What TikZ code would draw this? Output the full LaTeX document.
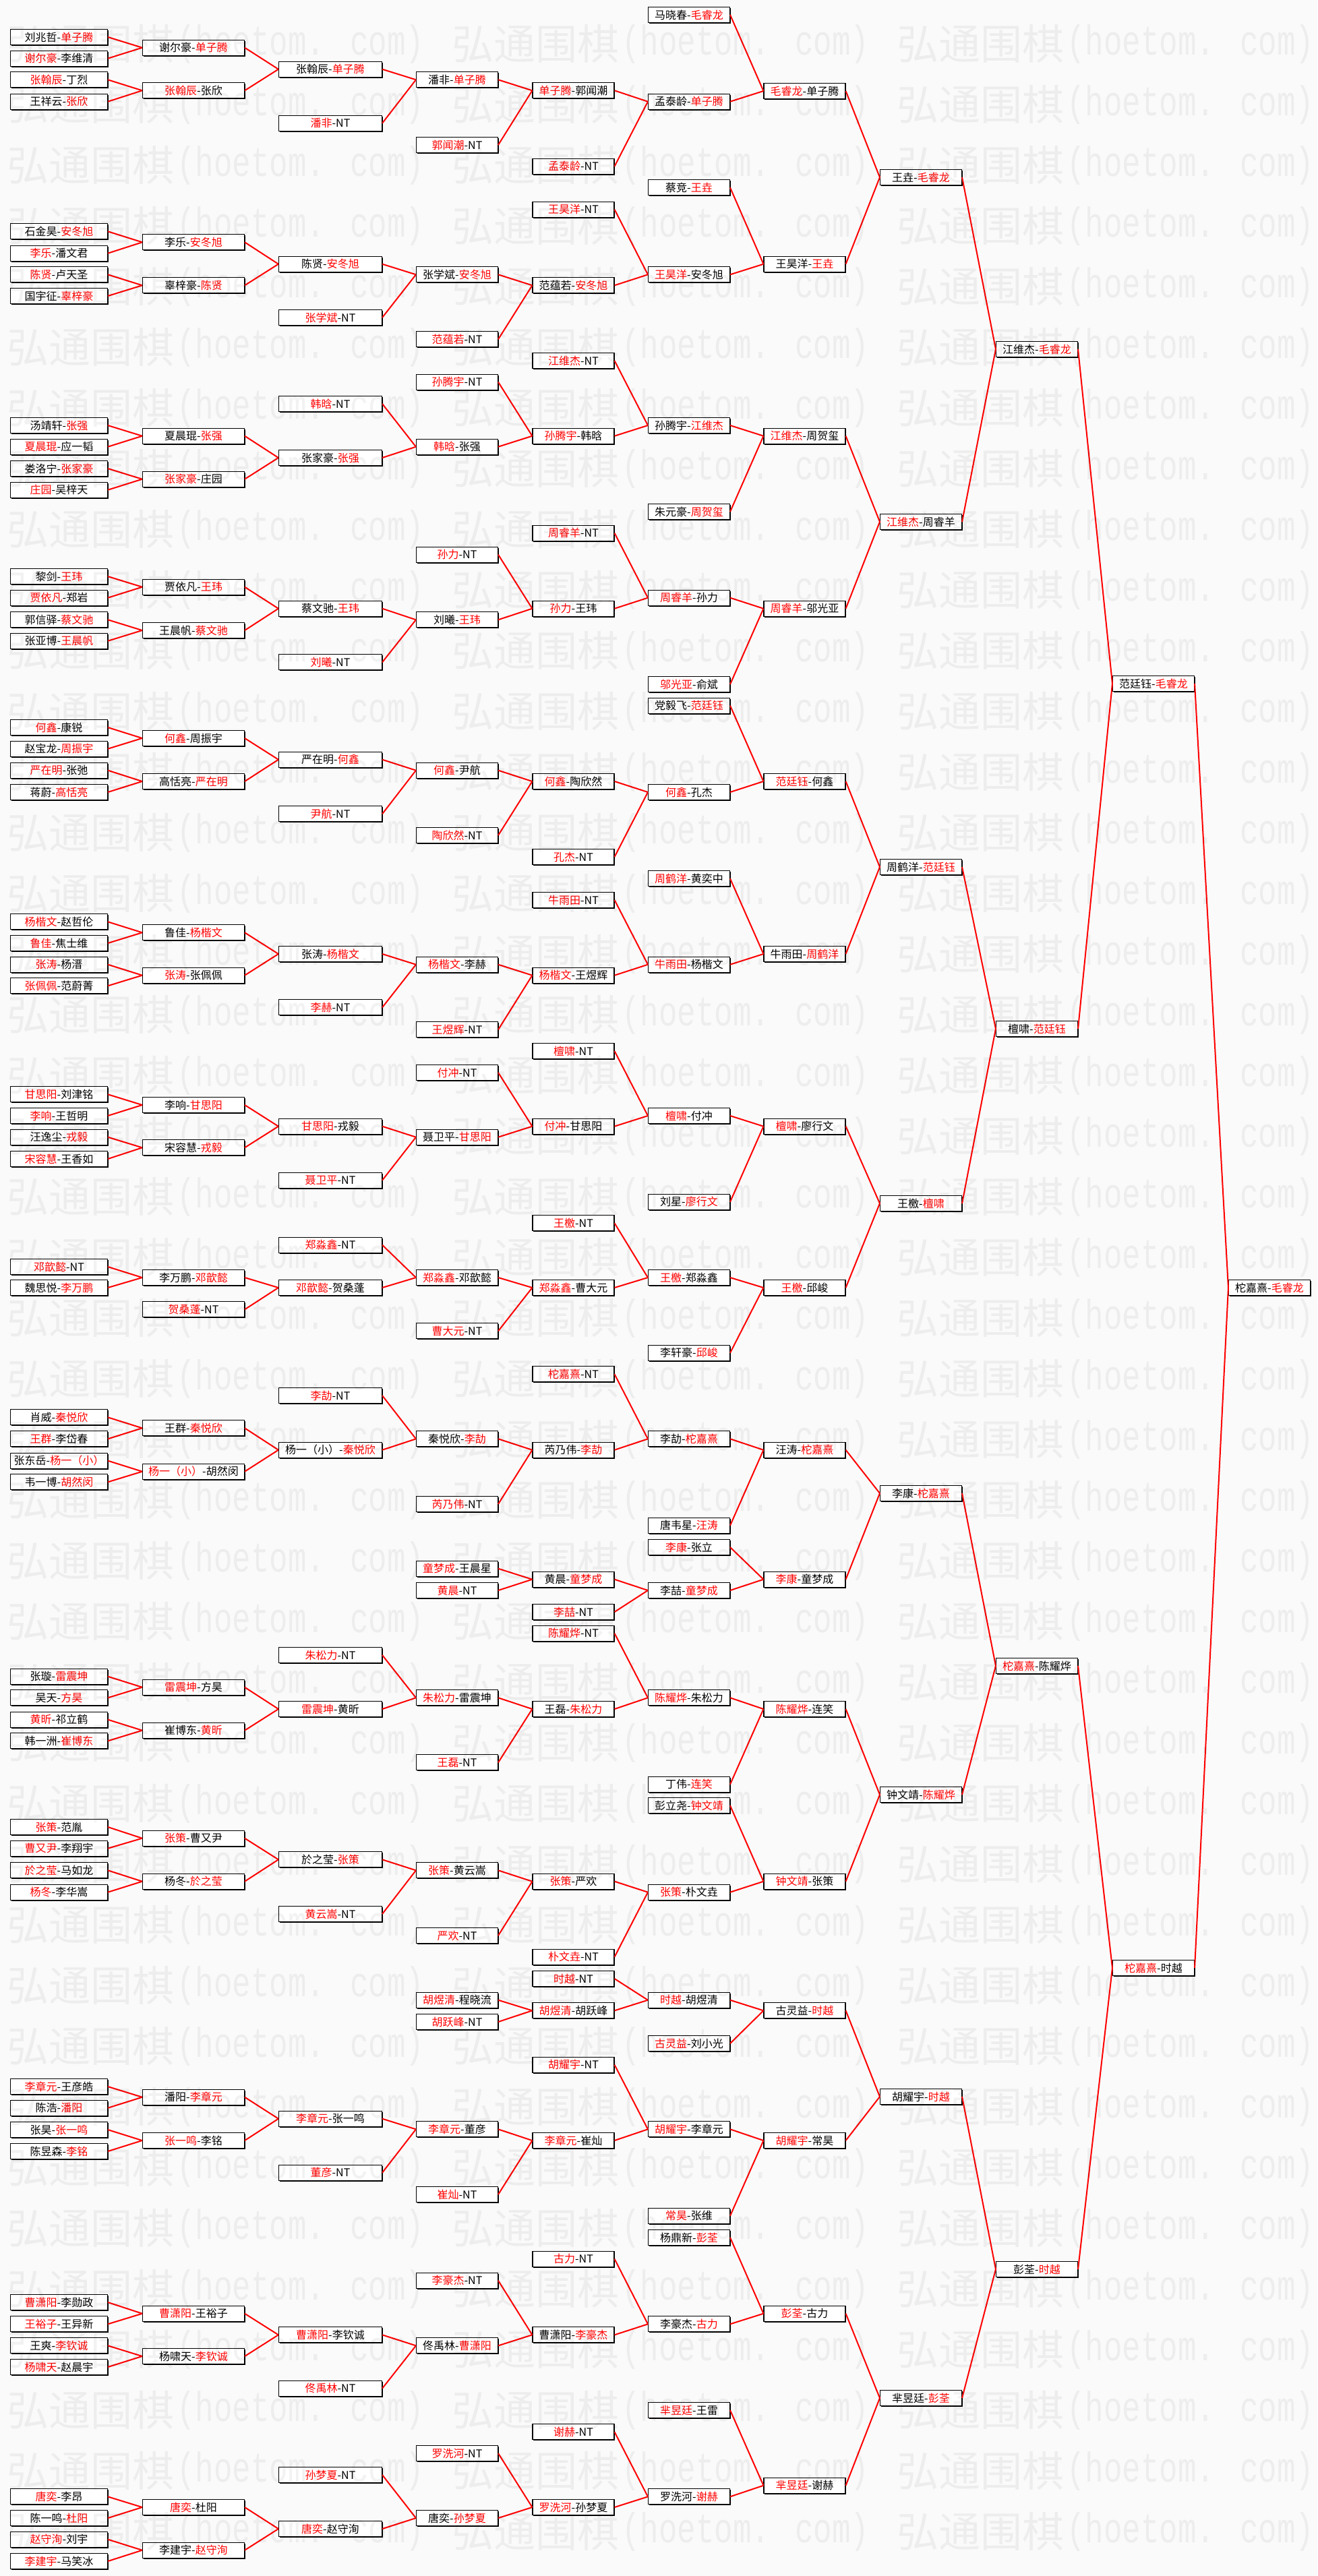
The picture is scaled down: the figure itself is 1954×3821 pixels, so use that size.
\documentclass[tikz,border=0pt]{standalone}
\usepackage{fontspec}
\setmainfont{Noto Sans CJK SC}
\newfontfamily\wmmono[FakeStretch=0.74]{Liberation Mono}
\usetikzlibrary{shadows}
\definecolor{bgc}{RGB}{250,250,250}
\newcommand{\lwin}[2]{\textcolor{red}{#1}-#2}
\newcommand{\rwin}[2]{#1-\textcolor{red}{#2}}
\def\xA{87.5}\def\xB{287}\def\xC{490}\def\xD{678}\def\xE{850.5}\def\xF{1022}
\def\xG{1193.5}\def\xH{1366}\def\xI{1538}\def\xJ{1711}\def\xK{1883}
\tikzset{
  mbox/.style={draw=black, line width=1.1pt, fill=white, inner sep=0pt, minimum height=23pt,
    font=\fontsize{16}{16}\selectfont,
    drop shadow={shadow xshift=1.4pt, shadow yshift=-1.4pt, fill=black, opacity=1}},
  wA/.style={mbox, minimum width=144pt},
  wB/.style={mbox, minimum width=151pt},
  wC/.style={mbox, minimum width=153pt},
  wD/.style={mbox, minimum width=121pt},
  link/.style={draw=red, line width=2pt},
  wm/.style={inner sep=0pt, anchor=west, text=black, text opacity=0.05, font=\fontsize{62}{62}\selectfont},
  wmm/.style={wm, font=\wmmono\fontsize{62}{62}\selectfont},
}
\begin{document}
\begin{tikzpicture}[x=1pt,y=-1pt]
\useasboundingbox (0,0) rectangle (1954,3821);
\fill[bgc] (0,0) rectangle (1954,3821);
% ---------- column A
\node[wA] (a1) at (\xA,55) {\rwin{刘兆哲}{单子腾}};
\node[wA] (a2) at (\xA,86.7) {\lwin{谢尔豪}{李维清}};
\node[wA] (a3) at (\xA,118.3) {\lwin{张翰辰}{丁烈}};
\node[wA] (a4) at (\xA,150.7) {\rwin{王祥云}{张欣}};
\node[wA] (a5) at (\xA,343.3) {\rwin{石金昊}{安冬旭}};
\node[wA] (a6) at (\xA,375.7) {\lwin{李乐}{潘文君}};
\node[wA] (a7) at (\xA,407.3) {\lwin{陈贤}{卢天圣}};
\node[wA] (a8) at (\xA,439) {\rwin{国宇征}{辜梓豪}};
\node[wA] (a9) at (\xA,631) {\rwin{汤靖轩}{张强}};
\node[wA] (a10) at (\xA,662.7) {\lwin{夏晨琨}{应一韬}};
\node[wA] (a11) at (\xA,695) {\rwin{娄洛宁}{张家豪}};
\node[wA] (a12) at (\xA,726.7) {\lwin{庄园}{吴梓天}};
\node[wA] (a13) at (\xA,855) {\rwin{黎剑}{王玮}};
\node[wA] (a14) at (\xA,886.7) {\lwin{贾依凡}{郑岩}};
\node[wA] (a15) at (\xA,919.3) {\rwin{郭信驿}{蔡文驰}};
\node[wA] (a16) at (\xA,950.7) {\rwin{张亚博}{王晨帆}};
\node[wA] (a17) at (\xA,1079) {\lwin{何鑫}{康锐}};
\node[wA] (a18) at (\xA,1110.7) {\rwin{赵宝龙}{周振宇}};
\node[wA] (a19) at (\xA,1142.7) {\lwin{严在明}{张弛}};
\node[wA] (a20) at (\xA,1175) {\rwin{蒋蔚}{高恬亮}};
\node[wA] (a21) at (\xA,1367.3) {\lwin{杨楷文}{赵哲伦}};
\node[wA] (a22) at (\xA,1399) {\lwin{鲁佳}{焦士维}};
\node[wA] (a23) at (\xA,1430.7) {\lwin{张涛}{杨溍}};
\node[wA] (a24) at (\xA,1462.3) {\lwin{张佩佩}{范蔚菁}};
\node[wA] (a25) at (\xA,1623.3) {\lwin{甘思阳}{刘津铭}};
\node[wA] (a26) at (\xA,1655) {\lwin{李响}{王哲明}};
\node[wA] (a27) at (\xA,1686.7) {\rwin{汪逸尘}{戎毅}};
\node[wA] (a28) at (\xA,1719) {\lwin{宋容慧}{王香如}};
\node[wA] (a29) at (\xA,1879) {\lwin{邓歆懿}{NT}};
\node[wA] (a30) at (\xA,1910) {\rwin{魏思悦}{李万鹏}};
\node[wA] (a31) at (\xA,2102.3) {\rwin{肖威}{秦悦欣}};
\node[wA] (a32) at (\xA,2134.3) {\lwin{王群}{李岱春}};
\node[wA] (a33) at (\xA,2166.7) {\rwin{张东岳}{杨一（小）}};
\node[wA] (a34) at (\xA,2198.3) {\rwin{韦一博}{胡然闵}};
\node[wA] (a35) at (\xA,2486.7) {\rwin{张璇}{雷震坤}};
\node[wA] (a36) at (\xA,2518.3) {\rwin{吴天}{方昊}};
\node[wA] (a37) at (\xA,2550.7) {\lwin{黄昕}{祁立鹤}};
\node[wA] (a38) at (\xA,2582.3) {\rwin{韩一洲}{崔博东}};
\node[wA] (a39) at (\xA,2710) {\lwin{张策}{范胤}};
\node[wA] (a40) at (\xA,2741.7) {\lwin{曹又尹}{李翔宇}};
\node[wA] (a41) at (\xA,2774.3) {\lwin{於之莹}{马如龙}};
\node[wA] (a42) at (\xA,2806.7) {\lwin{杨冬}{李华嵩}};
\node[wA] (a43) at (\xA,3095) {\lwin{李章元}{王彦皓}};
\node[wA] (a44) at (\xA,3126.7) {\rwin{陈浩}{潘阳}};
\node[wA] (a45) at (\xA,3159) {\rwin{张昊}{张一鸣}};
\node[wA] (a46) at (\xA,3191) {\rwin{陈昱森}{李铭}};
\node[wA] (a47) at (\xA,3415) {\lwin{曹潇阳}{李勋政}};
\node[wA] (a48) at (\xA,3447.3) {\lwin{王裕子}{王异新}};
\node[wA] (a49) at (\xA,3479.3) {\rwin{王爽}{李钦诚}};
\node[wA] (a50) at (\xA,3511) {\lwin{杨啸天}{赵晨宇}};
\node[wA] (a51) at (\xA,3703.3) {\lwin{唐奕}{李昂}};
\node[wA] (a52) at (\xA,3735) {\rwin{陈一鸣}{杜阳}};
\node[wA] (a53) at (\xA,3766.7) {\lwin{赵守洵}{刘宇}};
\node[wA] (a54) at (\xA,3799) {\lwin{李建宇}{马笑冰}};
% ---------- column B
\node[wB] (b1) at (\xB,70.7) {\rwin{谢尔豪}{单子腾}};
\node[wB] (b2) at (\xB,134.3) {\lwin{张翰辰}{张欣}};
\node[wB] (b3) at (\xB,359.3) {\rwin{李乐}{安冬旭}};
\node[wB] (b4) at (\xB,423.3) {\rwin{辜梓豪}{陈贤}};
\node[wB] (b5) at (\xB,646.7) {\rwin{夏晨琨}{张强}};
\node[wB] (b6) at (\xB,710.7) {\lwin{张家豪}{庄园}};
\node[wB] (b7) at (\xB,870.7) {\rwin{贾依凡}{王玮}};
\node[wB] (b8) at (\xB,935) {\rwin{王晨帆}{蔡文驰}};
\node[wB] (b9) at (\xB,1095) {\lwin{何鑫}{周振宇}};
\node[wB] (b10) at (\xB,1159) {\rwin{高恬亮}{严在明}};
\node[wB] (b11) at (\xB,1383.3) {\rwin{鲁佳}{杨楷文}};
\node[wB] (b12) at (\xB,1446.7) {\lwin{张涛}{张佩佩}};
\node[wB] (b13) at (\xB,1639) {\rwin{李响}{甘思阳}};
\node[wB] (b14) at (\xB,1702.3) {\rwin{宋容慧}{戎毅}};
\node[wB] (b15) at (\xB,1895) {\rwin{李万鹏}{邓歆懿}};
\node[wB] (b16) at (\xB,1942.3) {\lwin{贺桑蓬}{NT}};
\node[wB] (b17) at (\xB,2118.3) {\rwin{王群}{秦悦欣}};
\node[wB] (b18) at (\xB,2182.7) {\lwin{杨一（小）}{胡然闵}};
\node[wB] (b19) at (\xB,2502.7) {\lwin{雷震坤}{方昊}};
\node[wB] (b20) at (\xB,2566.7) {\rwin{崔博东}{黄昕}};
\node[wB] (b21) at (\xB,2726.7) {\lwin{张策}{曹又尹}};
\node[wB] (b22) at (\xB,2790.7) {\rwin{杨冬}{於之莹}};
\node[wB] (b23) at (\xB,3110.7) {\rwin{潘阳}{李章元}};
\node[wB] (b24) at (\xB,3175) {\lwin{张一鸣}{李铭}};
\node[wB] (b25) at (\xB,3431.7) {\lwin{曹潇阳}{王裕子}};
\node[wB] (b26) at (\xB,3495) {\rwin{杨啸天}{李钦诚}};
\node[wB] (b27) at (\xB,3719) {\lwin{唐奕}{杜阳}};
\node[wB] (b28) at (\xB,3782.7) {\rwin{李建宇}{赵守洵}};
% ---------- column C
\node[wC] (c1) at (\xC,102.7) {\rwin{张翰辰}{单子腾}};
\node[wC] (c2) at (\xC,182.7) {\lwin{潘非}{NT}};
\node[wC] (c3) at (\xC,391.7) {\rwin{陈贤}{安冬旭}};
\node[wC] (c4) at (\xC,471) {\lwin{张学斌}{NT}};
\node[wC] (c5) at (\xC,599) {\lwin{韩晗}{NT}};
\node[wC] (c6) at (\xC,679) {\rwin{张家豪}{张强}};
\node[wC] (c7) at (\xC,902.7) {\rwin{蔡文驰}{王玮}};
\node[wC] (c8) at (\xC,982.3) {\lwin{刘曦}{NT}};
\node[wC] (c9) at (\xC,1126.7) {\rwin{严在明}{何鑫}};
\node[wC] (c10) at (\xC,1207.3) {\lwin{尹航}{NT}};
\node[wC] (c11) at (\xC,1415) {\rwin{张涛}{杨楷文}};
\node[wC] (c12) at (\xC,1494.3) {\lwin{李赫}{NT}};
\node[wC] (c13) at (\xC,1670.7) {\lwin{甘思阳}{戎毅}};
\node[wC] (c14) at (\xC,1750.7) {\lwin{聂卫平}{NT}};
\node[wC] (c15) at (\xC,1846.7) {\lwin{郑淼鑫}{NT}};
\node[wC] (c16) at (\xC,1910) {\lwin{邓歆懿}{贺桑蓬}};
\node[wC] (c17) at (\xC,2070) {\lwin{李劼}{NT}};
\node[wC] (c18) at (\xC,2150.7) {\rwin{杨一（小）}{秦悦欣}};
\node[wC] (c19) at (\xC,2455) {\lwin{朱松力}{NT}};
\node[wC] (c20) at (\xC,2535) {\lwin{雷震坤}{黄昕}};
\node[wC] (c21) at (\xC,2758.3) {\rwin{於之莹}{张策}};
\node[wC] (c22) at (\xC,2839) {\lwin{黄云嵩}{NT}};
\node[wC] (c23) at (\xC,3142.7) {\lwin{李章元}{张一鸣}};
\node[wC] (c24) at (\xC,3222.7) {\lwin{董彦}{NT}};
\node[wC] (c25) at (\xC,3463.3) {\lwin{曹潇阳}{李钦诚}};
\node[wC] (c26) at (\xC,3542.7) {\lwin{佟禹林}{NT}};
\node[wC] (c27) at (\xC,3671) {\lwin{孙梦夏}{NT}};
\node[wC] (c28) at (\xC,3751) {\lwin{唐奕}{赵守洵}};
% ---------- column D
\node[wD] (d1) at (\xD,118.3) {\rwin{潘非}{单子腾}};
\node[wD] (d2) at (\xD,215) {\lwin{郭闻潮}{NT}};
\node[wD] (d3) at (\xD,407.3) {\rwin{张学斌}{安冬旭}};
\node[wD] (d4) at (\xD,503.3) {\lwin{范蕴若}{NT}};
\node[wD] (d5) at (\xD,566.7) {\lwin{孙腾宇}{NT}};
\node[wD] (d6) at (\xD,662.7) {\lwin{韩晗}{张强}};
\node[wD] (d7) at (\xD,822.7) {\lwin{孙力}{NT}};
\node[wD] (d8) at (\xD,919.3) {\rwin{刘曦}{王玮}};
\node[wD] (d9) at (\xD,1142.7) {\lwin{何鑫}{尹航}};
\node[wD] (d10) at (\xD,1239) {\lwin{陶欣然}{NT}};
\node[wD] (d11) at (\xD,1430.7) {\lwin{杨楷文}{李赫}};
\node[wD] (d12) at (\xD,1527.3) {\lwin{王煜辉}{NT}};
\node[wD] (d13) at (\xD,1591) {\lwin{付冲}{NT}};
\node[wD] (d14) at (\xD,1686.7) {\rwin{聂卫平}{甘思阳}};
\node[wD] (d15) at (\xD,1895) {\lwin{郑淼鑫}{邓歆懿}};
\node[wD] (d16) at (\xD,1974.3) {\lwin{曹大元}{NT}};
\node[wD] (d17) at (\xD,2134.3) {\rwin{秦悦欣}{李劼}};
\node[wD] (d18) at (\xD,2231) {\lwin{芮乃伟}{NT}};
\node[wD] (d19) at (\xD,2326.7) {\lwin{童梦成}{王晨星}};
\node[wD] (d20) at (\xD,2359) {\lwin{黄晨}{NT}};
\node[wD] (d21) at (\xD,2518.3) {\lwin{朱松力}{雷震坤}};
\node[wD] (d22) at (\xD,2614.3) {\lwin{王磊}{NT}};
\node[wD] (d23) at (\xD,2774.3) {\lwin{张策}{黄云嵩}};
\node[wD] (d24) at (\xD,2871) {\lwin{严欢}{NT}};
\node[wD] (d25) at (\xD,2966.7) {\lwin{胡煜清}{程晓流}};
\node[wD] (d26) at (\xD,2999) {\lwin{胡跃峰}{NT}};
\node[wD] (d27) at (\xD,3158.3) {\lwin{李章元}{董彦}};
\node[wD] (d28) at (\xD,3255) {\lwin{崔灿}{NT}};
\node[wD] (d29) at (\xD,3382.7) {\lwin{李豪杰}{NT}};
\node[wD] (d30) at (\xD,3479.3) {\rwin{佟禹林}{曹潇阳}};
\node[wD] (d31) at (\xD,3639) {\lwin{罗洗河}{NT}};
\node[wD] (d32) at (\xD,3735) {\rwin{唐奕}{孙梦夏}};
% ---------- column E
\node[wD] (e1) at (\xE,134.3) {\lwin{单子腾}{郭闻潮}};
\node[wD] (e2) at (\xE,246.7) {\lwin{孟泰龄}{NT}};
\node[wD] (e3) at (\xE,310.7) {\lwin{王昊洋}{NT}};
\node[wD] (e4) at (\xE,423.3) {\rwin{范蕴若}{安冬旭}};
\node[wD] (e5) at (\xE,535) {\lwin{江维杰}{NT}};
\node[wD] (e6) at (\xE,646.7) {\lwin{孙腾宇}{韩晗}};
\node[wD] (e7) at (\xE,790.7) {\lwin{周睿羊}{NT}};
\node[wD] (e8) at (\xE,902.7) {\lwin{孙力}{王玮}};
\node[wD] (e9) at (\xE,1159) {\lwin{何鑫}{陶欣然}};
\node[wD] (e10) at (\xE,1271) {\lwin{孔杰}{NT}};
\node[wD] (e11) at (\xE,1335) {\lwin{牛雨田}{NT}};
\node[wD] (e12) at (\xE,1446.7) {\lwin{杨楷文}{王煜辉}};
\node[wD] (e13) at (\xE,1559) {\lwin{檀啸}{NT}};
\node[wD] (e14) at (\xE,1670.7) {\lwin{付冲}{甘思阳}};
\node[wD] (e15) at (\xE,1814.3) {\lwin{王檄}{NT}};
\node[wD] (e16) at (\xE,1910) {\lwin{郑淼鑫}{曹大元}};
\node[wD] (e17) at (\xE,2038.3) {\lwin{柁嘉熹}{NT}};
\node[wD] (e18) at (\xE,2150.7) {\rwin{芮乃伟}{李劼}};
\node[wD] (e19) at (\xE,2342.7) {\rwin{黄晨}{童梦成}};
\node[wD] (e20) at (\xE,2391) {\lwin{李喆}{NT}};
\node[wD] (e21) at (\xE,2422.7) {\lwin{陈耀烨}{NT}};
\node[wD] (e22) at (\xE,2535) {\rwin{王磊}{朱松力}};
\node[wD] (e23) at (\xE,2790.7) {\lwin{张策}{严欢}};
\node[wD] (e24) at (\xE,2902.7) {\lwin{朴文垚}{NT}};
\node[wD] (e25) at (\xE,2935) {\lwin{时越}{NT}};
\node[wD] (e26) at (\xE,2982.3) {\lwin{胡煜清}{胡跃峰}};
\node[wD] (e27) at (\xE,3062.7) {\lwin{胡耀宇}{NT}};
\node[wD] (e28) at (\xE,3175) {\lwin{李章元}{崔灿}};
\node[wD] (e29) at (\xE,3350.7) {\lwin{古力}{NT}};
\node[wD] (e30) at (\xE,3463.3) {\rwin{曹潇阳}{李豪杰}};
\node[wD] (e31) at (\xE,3607.3) {\lwin{谢赫}{NT}};
\node[wD] (e32) at (\xE,3719) {\lwin{罗洗河}{孙梦夏}};
% ---------- column F
\node[wD] (f1) at (\xF,22) {\rwin{马晓春}{毛睿龙}};
\node[wD] (f2) at (\xF,150.7) {\rwin{孟泰龄}{单子腾}};
\node[wD] (f3) at (\xF,278.3) {\rwin{蔡竞}{王垚}};
\node[wD] (f4) at (\xF,407.3) {\lwin{王昊洋}{安冬旭}};
\node[wD] (f5) at (\xF,631) {\rwin{孙腾宇}{江维杰}};
\node[wD] (f6) at (\xF,759) {\rwin{朱元豪}{周贺玺}};
\node[wD] (f7) at (\xF,886.7) {\lwin{周睿羊}{孙力}};
\node[wD] (f8) at (\xF,1015) {\lwin{邬光亚}{俞斌}};
\node[wD] (f9) at (\xF,1046.7) {\rwin{党毅飞}{范廷钰}};
\node[wD] (f10) at (\xF,1175) {\lwin{何鑫}{孔杰}};
\node[wD] (f11) at (\xF,1303.3) {\lwin{周鹤洋}{黄奕中}};
\node[wD] (f12) at (\xF,1430.7) {\lwin{牛雨田}{杨楷文}};
\node[wD] (f13) at (\xF,1655) {\lwin{檀啸}{付冲}};
\node[wD] (f14) at (\xF,1782.7) {\rwin{刘星}{廖行文}};
\node[wD] (f15) at (\xF,1895) {\lwin{王檄}{郑淼鑫}};
\node[wD] (f16) at (\xF,2006.7) {\rwin{李轩豪}{邱峻}};
\node[wD] (f17) at (\xF,2134.3) {\rwin{李劼}{柁嘉熹}};
\node[wD] (f18) at (\xF,2262.7) {\rwin{唐韦星}{汪涛}};
\node[wD] (f19) at (\xF,2295) {\lwin{李康}{张立}};
\node[wD] (f20) at (\xF,2359) {\rwin{李喆}{童梦成}};
\node[wD] (f21) at (\xF,2518.3) {\lwin{陈耀烨}{朱松力}};
\node[wD] (f22) at (\xF,2646.7) {\rwin{丁伟}{连笑}};
\node[wD] (f23) at (\xF,2678.3) {\rwin{彭立尧}{钟文靖}};
\node[wD] (f24) at (\xF,2806.7) {\lwin{张策}{朴文垚}};
\node[wD] (f25) at (\xF,2966.7) {\lwin{时越}{胡煜清}};
\node[wD] (f26) at (\xF,3031) {\lwin{古灵益}{刘小光}};
\node[wD] (f27) at (\xF,3158.3) {\lwin{胡耀宇}{李章元}};
\node[wD] (f28) at (\xF,3286.7) {\lwin{常昊}{张维}};
\node[wD] (f29) at (\xF,3319) {\rwin{杨鼎新}{彭荃}};
\node[wD] (f30) at (\xF,3447.3) {\rwin{李豪杰}{古力}};
\node[wD] (f31) at (\xF,3575) {\lwin{芈昱廷}{王雷}};
\node[wD] (f32) at (\xF,3703.3) {\rwin{罗洗河}{谢赫}};
% ---------- column G
\node[wD] (g1) at (\xG,135) {\lwin{毛睿龙}{单子腾}};
\node[wD] (g2) at (\xG,391.7) {\rwin{王昊洋}{王垚}};
\node[wD] (g3) at (\xG,646.7) {\lwin{江维杰}{周贺玺}};
\node[wD] (g4) at (\xG,902.7) {\lwin{周睿羊}{邬光亚}};
\node[wD] (g5) at (\xG,1159) {\lwin{范廷钰}{何鑫}};
\node[wD] (g6) at (\xG,1415) {\rwin{牛雨田}{周鹤洋}};
\node[wD] (g7) at (\xG,1670.7) {\lwin{檀啸}{廖行文}};
\node[wD] (g8) at (\xG,1910) {\lwin{王檄}{邱峻}};
\node[wD] (g9) at (\xG,2150.7) {\rwin{汪涛}{柁嘉熹}};
\node[wD] (g10) at (\xG,2342.7) {\lwin{李康}{童梦成}};
\node[wD] (g11) at (\xG,2535) {\lwin{陈耀烨}{连笑}};
\node[wD] (g12) at (\xG,2790.7) {\lwin{钟文靖}{张策}};
\node[wD] (g13) at (\xG,2982.3) {\rwin{古灵益}{时越}};
\node[wD] (g14) at (\xG,3175) {\lwin{胡耀宇}{常昊}};
\node[wD] (g15) at (\xG,3431.7) {\lwin{彭荃}{古力}};
\node[wD] (g16) at (\xG,3686.7) {\lwin{芈昱廷}{谢赫}};
% ---------- columns H-K
\node[wD] (h1) at (\xH,263) {\rwin{王垚}{毛睿龙}};
\node[wD] (h2) at (\xH,774) {\lwin{江维杰}{周睿羊}};
\node[wD] (h3) at (\xH,1286) {\rwin{周鹤洋}{范廷钰}};
\node[wD] (h4) at (\xH,1785) {\rwin{王檄}{檀啸}};
\node[wD] (h5) at (\xH,2215) {\rwin{李康}{柁嘉熹}};
\node[wD] (h6) at (\xH,2662) {\rwin{钟文靖}{陈耀烨}};
\node[wD] (h7) at (\xH,3110) {\rwin{胡耀宇}{时越}};
\node[wD] (h8) at (\xH,3557) {\rwin{芈昱廷}{彭荃}};
\node[wD] (i1) at (\xI,518) {\rwin{江维杰}{毛睿龙}};
\node[wD] (i2) at (\xI,1526) {\rwin{檀啸}{范廷钰}};
\node[wD] (i3) at (\xI,2471) {\lwin{柁嘉熹}{陈耀烨}};
\node[wD] (i4) at (\xI,3366) {\rwin{彭荃}{时越}};
\node[wD] (j1) at (\xJ,1014) {\rwin{范廷钰}{毛睿龙}};
\node[wD] (j2) at (\xJ,2919) {\lwin{柁嘉熹}{时越}};
\node[wD] (k1) at (\xK,1910) {\rwin{柁嘉熹}{毛睿龙}};
% ---------- connectors
\foreach \u/\v in {a1/b1,a2/b1,a3/b2,a4/b2,a5/b3,a6/b3,a7/b4,a8/b4,a9/b5,a10/b5,a11/b6,a12/b6,
  a13/b7,a14/b7,a15/b8,a16/b8,a17/b9,a18/b9,a19/b10,a20/b10,a21/b11,a22/b11,a23/b12,a24/b12,
  a25/b13,a26/b13,a27/b14,a28/b14,a29/b15,a30/b15,a31/b17,a32/b17,a33/b18,a34/b18,a35/b19,a36/b19,
  a37/b20,a38/b20,a39/b21,a40/b21,a41/b22,a42/b22,a43/b23,a44/b23,a45/b24,a46/b24,a47/b25,a48/b25,
  a49/b26,a50/b26,a51/b27,a52/b27,a53/b28,a54/b28,
  b1/c1,b2/c1,b3/c3,b4/c3,b5/c6,b6/c6,b7/c7,b8/c7,b9/c9,b10/c9,b11/c11,b12/c11,b13/c13,b14/c13,
  b15/c16,b16/c16,b17/c18,b18/c18,b19/c20,b20/c20,b21/c21,b22/c21,b23/c23,b24/c23,b25/c25,b26/c25,
  b27/c28,b28/c28,
  c1/d1,c2/d1,c3/d3,c4/d3,c5/d6,c6/d6,c7/d8,c8/d8,c9/d9,c10/d9,c11/d11,c12/d11,c13/d14,c14/d14,
  c15/d15,c16/d15,c17/d17,c18/d17,c19/d21,c20/d21,c21/d23,c22/d23,c23/d27,c24/d27,c25/d30,c26/d30,
  c27/d32,c28/d32,
  d1/e1,d2/e1,d3/e4,d4/e4,d5/e6,d6/e6,d7/e8,d8/e8,d9/e9,d10/e9,d11/e12,d12/e12,d13/e14,d14/e14,
  d15/e16,d16/e16,d17/e18,d18/e18,d19/e19,d20/e19,d21/e22,d22/e22,d23/e23,d24/e23,d25/e26,d26/e26,
  d27/e28,d28/e28,d29/e30,d30/e30,d31/e32,d32/e32,
  e1/f2,e2/f2,e3/f4,e4/f4,e5/f5,e6/f5,e7/f7,e8/f7,e9/f10,e10/f10,e11/f12,e12/f12,e13/f13,e14/f13,
  e15/f15,e16/f15,e17/f17,e18/f17,e19/f20,e20/f20,e21/f21,e22/f21,e23/f24,e24/f24,e25/f25,e26/f25,
  e27/f27,e28/f27,e29/f30,e30/f30,e31/f32,e32/f32,
  f1/g1,f2/g1,f3/g2,f4/g2,f5/g3,f6/g3,f7/g4,f8/g4,f9/g5,f10/g5,f11/g6,f12/g6,f13/g7,f14/g7,
  f15/g8,f16/g8,f17/g9,f18/g9,f19/g10,f20/g10,f21/g11,f22/g11,f23/g12,f24/g12,f25/g13,f26/g13,
  f27/g14,f28/g14,f29/g15,f30/g15,f31/g16,f32/g16,
  g1/h1,g2/h1,g3/h2,g4/h2,g5/h3,g6/h3,g7/h4,g8/h4,g9/h5,g10/h5,g11/h6,g12/h6,g13/h7,g14/h7,g15/h8,g16/h8,
  h1/i1,h2/i1,h3/i2,h4/i2,h5/i3,h6/i3,h7/i4,h8/i4,
  i1/j1,i2/j1,i3/j2,i4/j2,j1/k1,j2/k1}
  \draw[link] (\u.east) -- (\v.west);
% ---------- watermark
\foreach \r in {0,...,41}{
  \foreach \cx in {10,670,1330}{
    \node[wm] (wa-\r-\cx) at (\cx,65+90*\r) {弘通围棋};
    \node[wmm] (wb-\r-\cx) at (\cx+252,65+90*\r) {(hoetom. com)};
  }
}
\end{tikzpicture}
\end{document}
